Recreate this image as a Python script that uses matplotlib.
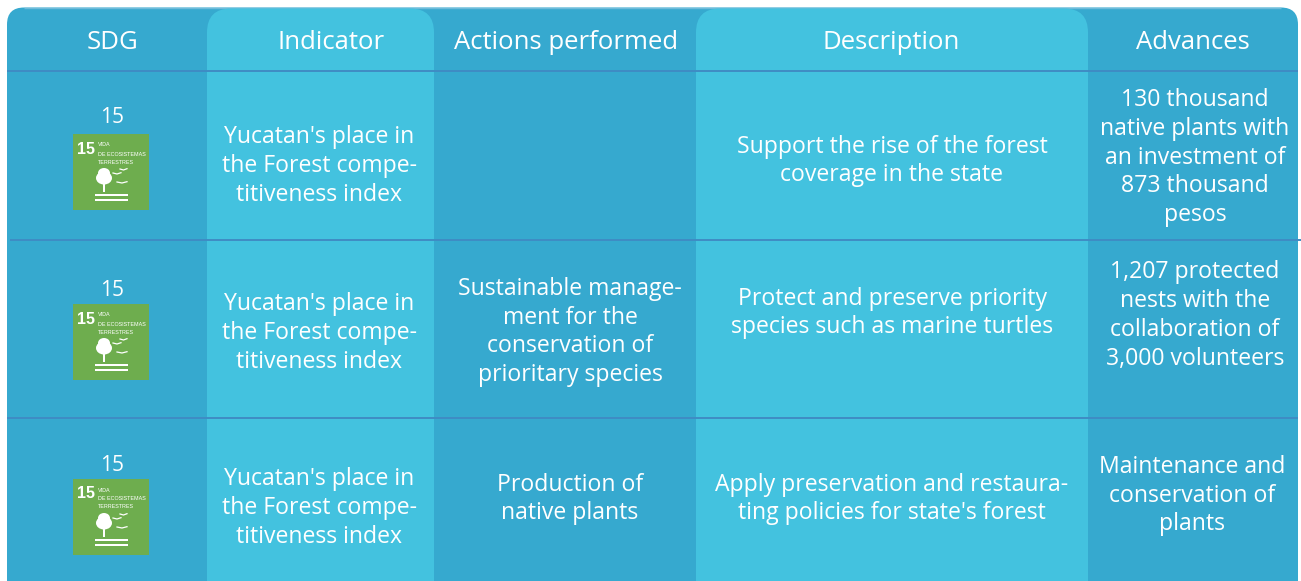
import matplotlib
matplotlib.use("Agg")
import matplotlib.pyplot as plt
from matplotlib.patches import PathPatch, Rectangle, Ellipse
from matplotlib.path import Path

headers = ["SDG", "Indicator", "Actions performed", "Description", "Advances"]
sdg_labels = ["15", "15", "15"]
indicator = ["Yucatan's place in\nthe Forest compe-\ntitiveness index"] * 3
actions = ["", "Sustainable manage-\nment for the\nconservation of\nprioritary species",
           "Production of\nnative plants"]
descriptions = ["Support the rise of the forest\ncoverage in the state",
                "Protect and preserve priority\nspecies such as marine turtles",
                "Apply preservation and restaura-\nting policies for state's forest"]
advances = ["130 thousand\nnative plants with\nan investment of\n873 thousand\npesos",
            "1,207 protected\nnests with the\ncollaboration of\n3,000 volunteers",
            "Maintenance and\nconservation of\nplants"]

# layout (pixels)
W, H = 1301, 581
col_edges = [7, 207, 434, 696, 1088, 1298]
rules = [71, 240, 418]
header_x = [112, 331, 566, 891, 1193]
header_y = 39.5
icon_tops = [134, 304, 479]
num_y = [115, 288, 463]
ind_y = [163, 330, 505]
act_y = [None, 329, 496]
desc_y = [158, 310, 496]
adv_y = [154.5, 312.5, 492.5]
ind_x, act_x, desc_x = 319, 570, 892
adv_x = [1195, 1195, 1192]
LH = 28.8

DARK = "#36A9CF"
LIGHT = "#43C2DF"
RULE = "#3F8CC4"
GREEN = "#6EAD4E"
WHITE = "#FFFFFF"
FONT = ["Open Sans", "DejaVu Sans"]
FS = 16.6
HFS = 18.5

fig = plt.figure(figsize=(W / 100, H / 100), dpi=100, facecolor="white")
ax = fig.add_axes([0, 0, 1, 1])
ax.set_xlim(0, W)
ax.set_ylim(H, 0)
ax.axis("off")


def top_round(x0, x1, y0, y1, rl, rr, color, z):
    verts = [(x0, y1), (x0, y0 + rl), (x0, y0), (x0 + rl, y0), (x1 - rr, y0),
             (x1, y0), (x1, y0 + rr), (x1, y1), (x0, y1)]
    codes = [Path.MOVETO, Path.LINETO, Path.CURVE3, Path.CURVE3, Path.LINETO,
             Path.CURVE3, Path.CURVE3, Path.LINETO, Path.CLOSEPOLY]
    ax.add_patch(PathPatch(Path(verts, codes), fc=color, ec="none", lw=0, zorder=z))


def lines(x, yc, s, size=FS):
    parts = s.split("\n")
    for i, p in enumerate(parts):
        y = yc + (i - (len(parts) - 1) / 2) * LH
        ax.text(x, y, p, ha="center", va="center_baseline", color=WHITE,
                fontsize=size, family=FONT, zorder=6)


def icon(y0):
    x0, s = 73, 76
    ax.add_patch(Rectangle((x0, y0), s, s, fc=GREEN, ec="none", zorder=4))
    sans = ["Liberation Sans", "DejaVu Sans"]
    ax.text(x0 + 13, y0 + 15, "15", color=WHITE, fontsize=11.5, weight="bold",
            family=sans, ha="center", va="center", zorder=5)
    for dy, t in zip((11, 20, 28), ("VIDA", "DE ECOSISTEMAS", "TERRESTRES")):
        ax.text(x0 + 25, y0 + dy, t, color=WHITE, fontsize=3.9, family=sans,
                ha="left", va="center", zorder=5)
    # tree
    ax.add_patch(Ellipse((x0 + 31, y0 + 44), 16, 13, fc=WHITE, ec="none", zorder=5))
    ax.add_patch(Ellipse((x0 + 31, y0 + 39), 12, 10, fc=WHITE, ec="none", zorder=5))
    ax.add_patch(Rectangle((x0 + 30, y0 + 49), 2, 9, fc=WHITE, ec="none", zorder=5))
    # ground
    for dy in (60, 64.5):
        ax.add_patch(Rectangle((x0 + 22, y0 + dy), 33, 2, fc=WHITE, ec="none", zorder=5))
    # birds
    for bx, by, bw in ((40, 39, 8), (47, 35, 7), (44, 48, 10)):
        ax.plot([x0 + bx, x0 + bx + bw / 2, x0 + bx + bw],
                [y0 + by, y0 + by + 1.0, y0 + by - 0.3], color=WHITE, lw=0.9, zorder=5)


# table background with rounded outer corners
top_round(col_edges[0], col_edges[5], 7.5, H, 17, 17, DARK, 1)
ax.plot([24, 1281], [7.7, 7.7], color="#6FBBDA", lw=1, solid_capstyle="butt", zorder=1.5)

# lighter columns
top_round(col_edges[1], col_edges[2], 8.5, H, 24, 24, LIGHT, 2)
top_round(col_edges[3], col_edges[4], 8.5, H, 24, 24, LIGHT, 2)

# horizontal rules
ax.plot([col_edges[0], col_edges[5]], [rules[0], rules[0]], color=RULE, lw=1.4,
        solid_capstyle="butt", zorder=3)
ax.plot([10, W], [rules[1], rules[1]], color=RULE, lw=1.4, solid_capstyle="butt", zorder=3)
ax.plot([col_edges[0], col_edges[5]], [rules[2], rules[2]], color=RULE, lw=1.4,
        solid_capstyle="butt", zorder=3)

for x, h in zip(header_x, headers):
    ax.text(x, header_y, h, ha="center", va="center_baseline", color=WHITE, fontsize=HFS,
            family=FONT, zorder=6)

for i in range(3):
    lines(112, num_y[i], sdg_labels[i], size=15)
    icon(icon_tops[i])
    lines(ind_x, ind_y[i], indicator[i])
    if actions[i]:
        lines(act_x, act_y[i], actions[i])
    lines(desc_x, desc_y[i], descriptions[i])
    lines(adv_x[i], adv_y[i], advances[i])

fig.savefig("out.png", dpi=100, facecolor="white")
